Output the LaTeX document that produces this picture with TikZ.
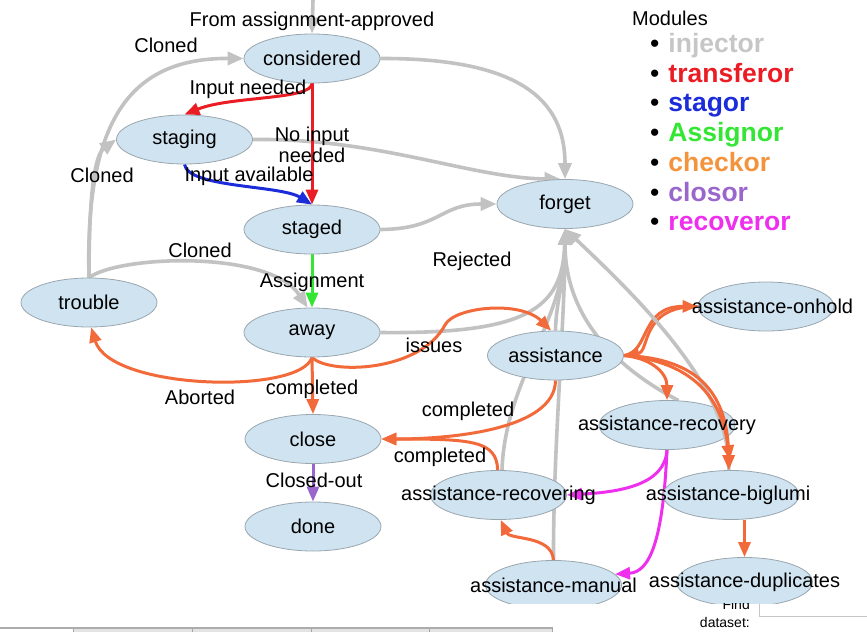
\documentclass[tikz,border=0pt]{standalone}
\usepackage{fontspec}
\setmainfont{Liberation Sans}
\usetikzlibrary{shapes.geometric,arrows.meta}
\definecolor{nfill}{HTML}{CFE3F1}
\definecolor{nborder}{HTML}{9AA6AE}
\definecolor{cgray}{HTML}{C2C2C2}
\definecolor{cred}{HTML}{EA1C24}
\definecolor{cblue}{HTML}{1B2CD8}
\definecolor{cgreen}{HTML}{33E633}
\definecolor{corange}{HTML}{F26A3A}
\definecolor{cpurple}{HTML}{9966CC}
\definecolor{cmagenta}{HTML}{EE30EE}
\definecolor{lgray}{HTML}{C6C6C6}
\definecolor{lorange}{HTML}{F3933C}
\newcommand{\ztxt}[1]{\makebox[0pt]{#1}}
\newcommand{\legitem}[2]{\fontsize{26.5}{30}\selectfont\textbullet\hspace{9pt}\bfseries\textcolor{#1}{#2}}
\pgfdeclarelayer{edges}
\pgfsetlayers{edges,main}
\begin{document}
\begin{tikzpicture}[x=1pt,y=-1pt,
  state/.style={ellipse, draw=nborder, line width=0.8pt, fill=nfill,
    minimum width=136pt, minimum height=49pt, inner sep=0pt,
    font=\fontsize{20}{24}\selectfont},
  lbl/.style={inner sep=0pt, font=\fontsize{20}{21}\selectfont, align=center},
  leg/.style={anchor=base west, inner sep=0pt},
  gedge/.style={draw=cgray, line width=3.6pt, -{Triangle[length=16pt,width=13pt]}},
  cedge/.style={line width=3pt, -{Triangle[length=15pt,width=12pt]}},
  redge/.style={cedge, draw=cred},
  bedge/.style={cedge, draw=cblue},
  gredge/.style={cedge, draw=cgreen},
  oedge/.style={cedge, draw=corange},
  pedge/.style={cedge, draw=cpurple},
  medge/.style={cedge, draw=cmagenta}
]
\useasboundingbox (0,0) rectangle (867,632);

% ---------- states ----------
\node[state] (considered) at (312,58.5) {\ztxt{considered}};
\node[state] (staging) at (184.5,139.5) {\ztxt{staging}};
\node[state] (staged) at (312,229.5) {\ztxt{staged}};
\node[state] (trouble) at (89,302.5) {\ztxt{trouble}};
\node[state] (away) at (312,332.5) {\ztxt{away}};
\node[state] (close) at (313,439) {\ztxt{close}};
\node[state] (done) at (313,526.5) {\ztxt{done}};
\node[state] (forget) at (565,204) {\ztxt{forget}};
\node[state] (assistance) at (555.5,355.5) {\ztxt{assistance}};
\node[state] (onhold) at (766,306.5) {\ztxt{\hspace*{13pt}assistance-onhold}};
\node[state] (recovery) at (667,425) {};
\node[state] (biglumi) at (731,495) {\ztxt{assistance-biglumi\hspace*{6pt}}};
\node[state] (recovering) at (498.5,495) {\ztxt{assistance-recovering}};
\node[state] (manual) at (553.5,585) {\ztxt{assistance-manual}};
\node[state] (duplicates) at (744.5,582) {\ztxt{assistance-duplicates}};
\coordinate (topin) at (313,0);

% ---------- edges (behind the states) ----------
\begin{pgfonlayer}{edges}
% injector
\draw[gedge] (topin) -- (considered.north);
\draw[gedge] (trouble.north) .. controls (85,120) and (130,58) .. (considered.west);
\draw[gedge] (trouble.north) .. controls (89,190) and (95,155) .. (staging.west);
\draw[gedge] (trouble.north) .. controls (120,255) and (270,250) .. (away.100);
\draw[gedge] (considered.east) .. controls (520,58) and (565,100) .. (forget.north);
\draw[gedge] (staging.east) .. controls (380,138) and (470,178) .. (forget.100);
\draw[gedge] (staged.east) .. controls (440,229) and (440,204) .. (forget.west);
\draw[gedge] (away.east) .. controls (525,334) and (563,310) .. (forget.south);
\draw[gedge] (assistance.north) .. controls (556,300) and (565,280) .. (forget.south);
\draw[gedge] (recovering.82) .. controls (505,380) and (565,320) .. (forget.south);
\draw[gedge] (manual.north) .. controls (553,450) and (565,320) .. (forget.south);
\draw[gedge] (recovery.65) .. controls (620,370) and (565,320) .. (forget.south);
% transferor
\draw[redge] (considered.south) .. controls (312,100) and (230,96) .. (staging.north);
\draw[redge] (considered.south) -- (staged.north);
% stagor
\draw[bedge] (staging.south) .. controls (188,188) and (280,185) .. (staged.north);
% Assignor
\draw[gredge] (staged.south) -- (away.north);
% checkor
\draw[oedge] (away.south) .. controls (300,395) and (110,390) .. (trouble.-85);
\draw[oedge] (away.south) .. controls (330,375) and (420,372) .. (445,325)
   .. controls (454,307) and (520,300) .. (assistance.100);
\draw[oedge] (away.south) -- (close.north);
\draw[oedge] (assistance.south) .. controls (555,430) and (450,439) .. (close.east);
\draw[oedge] (recovering.92) .. controls (497,440) and (470,439) .. (close.east);
\draw[oedge] (manual.north) .. controls (552,535) and (510,540) .. (recovering.-85);
\draw[oedge] (assistance.east) .. controls (650,352) and (640,306) .. (onhold.west);
\draw[oedge] (onhold.west) .. controls (640,306) and (650,352) .. (assistance.east);
\draw[oedge] (assistance.east) .. controls (650,358) and (667,372) .. (recovery.north);
\draw[oedge] (biglumi.south -| duplicates.north) -- (duplicates.north);
% closor
\draw[pedge] (close.south) -- (done.north);
% recoveror
\draw[medge] (recovery.south) .. controls (665,485) and (620,492) .. (recovering.east);
\draw[medge] (recovery.south) .. controls (663,540) and (650,572) .. (manual.10);
\end{pgfonlayer}

% edges crossing over assistance-recovery
\draw[gedge] (biglumi.95) .. controls (732,390) and (640,300) .. (forget.south);
\draw[oedge] (assistance.east) .. controls (700,358) and (728,395) .. (biglumi.95);
\draw[oedge, shorten >=10pt] (assistance.east) .. controls (695,362) and (722,400) .. (biglumi.north);
\node[inner sep=0pt, font=\fontsize{20}{24}\selectfont] (trecovery) at (recovery) {assistance-recovery};

% ---------- edge labels ----------
\node[lbl] (lfrom) at (312,21) {From assignment-approved};
\node[lbl] (lcl1) at (166,45.5) {Cloned};
\node[lbl] (linn) at (248,89.5) {Input needed};
\node[lbl] (lnoin) at (312,145) {No input\\needed};
\node[lbl] (lcl2) at (102,175.5) {Cloned};
\node[lbl] (linav) at (249,176) {Input available};
\node[lbl] (lcl3) at (200,250.5) {Cloned};
\node[lbl] (lassign) at (312,282) {Assignment};
\node[lbl] (lrej) at (472,261) {Rejected};
\node[lbl] (liss) at (434,345) {issues};
\node[lbl] (labort) at (200,397) {Aborted};
\node[lbl] (lcomp1) at (312,389) {completed};
\node[lbl] (lcomp2) at (468,411) {completed};
\node[lbl] (lcomp3) at (440,457) {completed};
\node[lbl] (lclout) at (314,480) {Closed-out};

% ---------- legend ----------
\node[leg, font=\fontsize{20}{24}\selectfont] (lmod) at (632,25) {Modules};
\node[leg] (li1) at (650,52.5) {\legitem{lgray}{injector}};
\node[leg] (li2) at (650,82.2) {\legitem{cred}{transferor}};
\node[leg] (li3) at (650,111.9) {\legitem{cblue}{stagor}};
\node[leg] (li4) at (650,141.6) {\legitem{cgreen}{Assignor}};
\node[leg] (li5) at (650,171.3) {\legitem{lorange}{checkor}};
\node[leg] (li6) at (650,201) {\legitem{cpurple}{closor}};
\node[leg] (li7) at (650,230.7) {\legitem{cmagenta}{recoveror}};

% ---------- page below the diagram ----------
\fill[white] (0,603.5) rectangle (867,632);
\begin{scope}
  \clip (600,603.5) rectangle (800,632);
  \node[anchor=base east, inner sep=0pt, font=\fontsize{14}{16}\selectfont] (lfind) at (750,609) {Find};
\end{scope}
\node[anchor=base east, inner sep=0pt, font=\fontsize{14}{16}\selectfont] (ldata) at (750,627) {dataset:};
\draw[gray!45, line width=0.8pt] (759,603.5) -- (759,616) -- (867,616);
\fill[gray!65] (0,626.5) rectangle (552,629);
\fill[gray!22] (73,629) rectangle (552,632);
\draw[gray!70, line width=1pt] (73,629) -- (73,632) (192,629) -- (192,632)
  (311,629) -- (311,632) (429,629) -- (429,632) (552,626.5) -- (552,632);
\end{tikzpicture}
\end{document}
